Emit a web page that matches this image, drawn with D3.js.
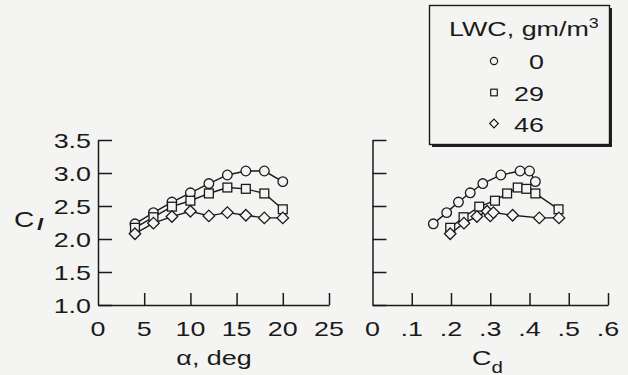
<!DOCTYPE html>
<html>
<head>
<meta charset="utf-8">
<script src="https://cdn.jsdelivr.net/npm/d3@7/dist/d3.min.js"></script>
<style>
  html, body { margin: 0; padding: 0; background: #f4f4f3; }
  svg { display: block; }
  text { font-family: "Liberation Sans", Arial, Helvetica, sans-serif; fill: #1a1a1a; }
</style>
</head>
<body>
<svg id="chart" width="628" height="375"></svg>
<script>
// Angle of attack, deg (same stations for every LWC case)
const alpha = [4, 6, 8, 10, 12, 14, 16, 18, 20];

// Lift coefficient for each liquid water content
const cl0  = [2.23, 2.40, 2.56, 2.70, 2.84, 2.97, 3.03, 3.03, 2.87];
const cl29 = [2.17, 2.33, 2.49, 2.58, 2.69, 2.78, 2.76, 2.69, 2.45];
const cl46 = [2.08, 2.24, 2.34, 2.42, 2.35, 2.40, 2.36, 2.32, 2.32];

// Drag coefficient for each liquid water content
const cd0  = [0.155, 0.189, 0.219, 0.249, 0.281, 0.327, 0.376, 0.400, 0.415];
const cd29 = [0.198, 0.232, 0.272, 0.312, 0.343, 0.370, 0.392, 0.415, 0.474];
const cd46 = [0.198, 0.233, 0.266, 0.292, 0.300, 0.308, 0.357, 0.425, 0.475];

// Legend entries and tick values
const lwcLabels = ["0", "29", "46"];
const markerKinds = ["circle", "square", "diamond"];
const clTicks = [1.0, 1.5, 2.0, 2.5, 3.0, 3.5];
const alphaTicks = [0, 5, 10, 15, 20, 25];
const cdTicks = [0, 0.1, 0.2, 0.3, 0.4, 0.5, 0.6];

const INK = "#1a1a1a";
const BG = "#f4f4f3";
const SX = 1.28; // wide lettering

const svg = d3.select("#chart");

const y = d3.scaleLinear().domain([1.0, 3.5]).range([305, 140]);
const xA = d3.scaleLinear().domain([0, 25]).range([98, 329]);
const xC = d3.scaleLinear().domain([0, 0.6]).range([372.5, 608]);

// Wide text helper: anchored at (x, y) and stretched horizontally
function wideText(g, x, yy, str, size, anchor) {
  return g.append("text")
    .attr("transform", `translate(${x},${yy}) scale(${SX},1)`)
    .attr("text-anchor", anchor || "start")
    .style("font-size", size + "px")
    .text(str);
}

function styleAxis(g) {
  g.select(".domain").attr("stroke", INK).attr("stroke-width", 1.5);
  g.selectAll(".tick line").attr("stroke", INK).attr("stroke-width", 1.5);
}

// ---- Left panel axes ----
const yAxisL = svg.append("g").attr("transform", `translate(${xA(0)},0)`)
  .call(d3.axisRight(y).tickValues(clTicks).tickSize(14).tickSizeOuter(0).tickFormat(""));
styleAxis(yAxisL);
clTicks.forEach(v => {
  wideText(svg, 91, y(v) + 7.5, d3.format(".1f")(v), 21, "end");
});

const xAxisL = svg.append("g").attr("transform", `translate(0,${y(1.0)})`)
  .call(d3.axisTop(xA).tickValues(alphaTicks).tickSize(12).tickSizeOuter(0).tickFormat(""));
styleAxis(xAxisL);
xAxisL.selectAll(".tick").filter(d => d === 0).select("line").remove();
alphaTicks.forEach(v => {
  wideText(svg, xA(v), 335.5, String(v), 21, "middle");
});

// ---- Right panel axes ----
const yAxisR = svg.append("g").attr("transform", `translate(${xC(0)},0)`)
  .call(d3.axisRight(y).tickValues(clTicks).tickSize(14).tickSizeOuter(0).tickFormat(""));
styleAxis(yAxisR);

const xAxisR = svg.append("g").attr("transform", `translate(0,${y(1.0)})`)
  .call(d3.axisTop(xC).tickValues(cdTicks).tickSize(12).tickSizeOuter(0).tickFormat(""));
styleAxis(xAxisR);
xAxisR.selectAll(".tick").filter(d => d === 0).select("line").remove();
const cdFmt = v => v === 0 ? "0" : d3.format(".1f")(v).replace(/^0/, "");
cdTicks.forEach(v => {
  wideText(svg, xC(v), 335.5, cdFmt(v), 21, "middle");
});

// ---- Axis titles ----
const aT = svg.append("text")
  .attr("transform", `translate(214,365) scale(${SX},1)`)
  .attr("text-anchor", "middle").style("font-size", "21px");
aT.append("tspan").text("\u03b1, deg");

const cdT = svg.append("text")
  .attr("transform", `translate(472,365) scale(${SX},1)`)
  .style("font-size", "21px");
cdT.append("tspan").text("C");
cdT.append("tspan").attr("dy", 8).style("font-size", "16px").text("d");

const clT = svg.append("text")
  .attr("transform", `translate(14,227) scale(${SX},1)`)
  .style("font-size", "22px");
clT.append("tspan").text("C");
clT.append("tspan").attr("dx", 2).attr("dy", 3).style("font-size", "17px")
  .style("font-style", "italic").style("font-weight", "bold").text("l");

// ---- Markers ----
function drawMarker(g, kind, cx, cy, s, sw) {
  if (kind === "circle") {
    g.append("circle").attr("cx", cx).attr("cy", cy).attr("r", s)
      .attr("fill", BG).attr("stroke", INK).attr("stroke-width", sw);
  } else if (kind === "square") {
    const h = s * 0.92;
    g.append("rect").attr("x", cx - h).attr("y", cy - h)
      .attr("width", 2 * h).attr("height", 2 * h)
      .attr("fill", BG).attr("stroke", INK).attr("stroke-width", sw);
  } else {
    const h = s * 1.2;
    g.append("path")
      .attr("d", `M${cx},${cy - h}L${cx + h},${cy}L${cx},${cy + h}L${cx - h},${cy}Z`)
      .attr("fill", BG).attr("stroke", INK).attr("stroke-width", sw);
  }
}

const clSeries = [cl0, cl29, cl46];
const cdSeries = [cd0, cd29, cd46];
const line = d3.line();

function drawPanel(xs, xScale) {
  const g = svg.append("g");
  clSeries.forEach((cl, k) => {
    const pts = xs[k].map((xv, i) => [xScale(xv), y(cl[i])]);
    g.append("path").attr("d", line(pts)).attr("fill", "none")
      .attr("stroke", INK).attr("stroke-width", 1.4);
    pts.forEach(p => drawMarker(g, markerKinds[k], p[0], p[1], 4.8, 1.3));
  });
}

drawPanel([alpha, alpha, alpha], xA);
drawPanel(cdSeries, xC);

// ---- Legend ----
const leg = svg.append("g");
leg.append("rect").attr("x", 432).attr("y", 8).attr("width", 180).attr("height", 139)
  .attr("fill", "#222");
leg.append("rect").attr("x", 429.5).attr("y", 5.5).attr("width", 180).attr("height", 139)
  .attr("fill", BG).attr("stroke", INK).attr("stroke-width", 1.4);

const lt = leg.append("text")
  .attr("transform", `translate(449,36) scale(${SX},1)`)
  .style("font-size", "21px");
lt.append("tspan").text("LWC, gm/m");
lt.append("tspan").attr("dy", -8).style("font-size", "14px").text("3");

const rowY = [69, 100.5, 131.5];
lwcLabels.forEach((lab, k) => {
  drawMarker(leg, markerKinds[k], 494, rowY[k] - 8, 3.6, 1.2);
  wideText(leg, 544, rowY[k], lab, 21, "end");
});
</script>
</body>
</html>
